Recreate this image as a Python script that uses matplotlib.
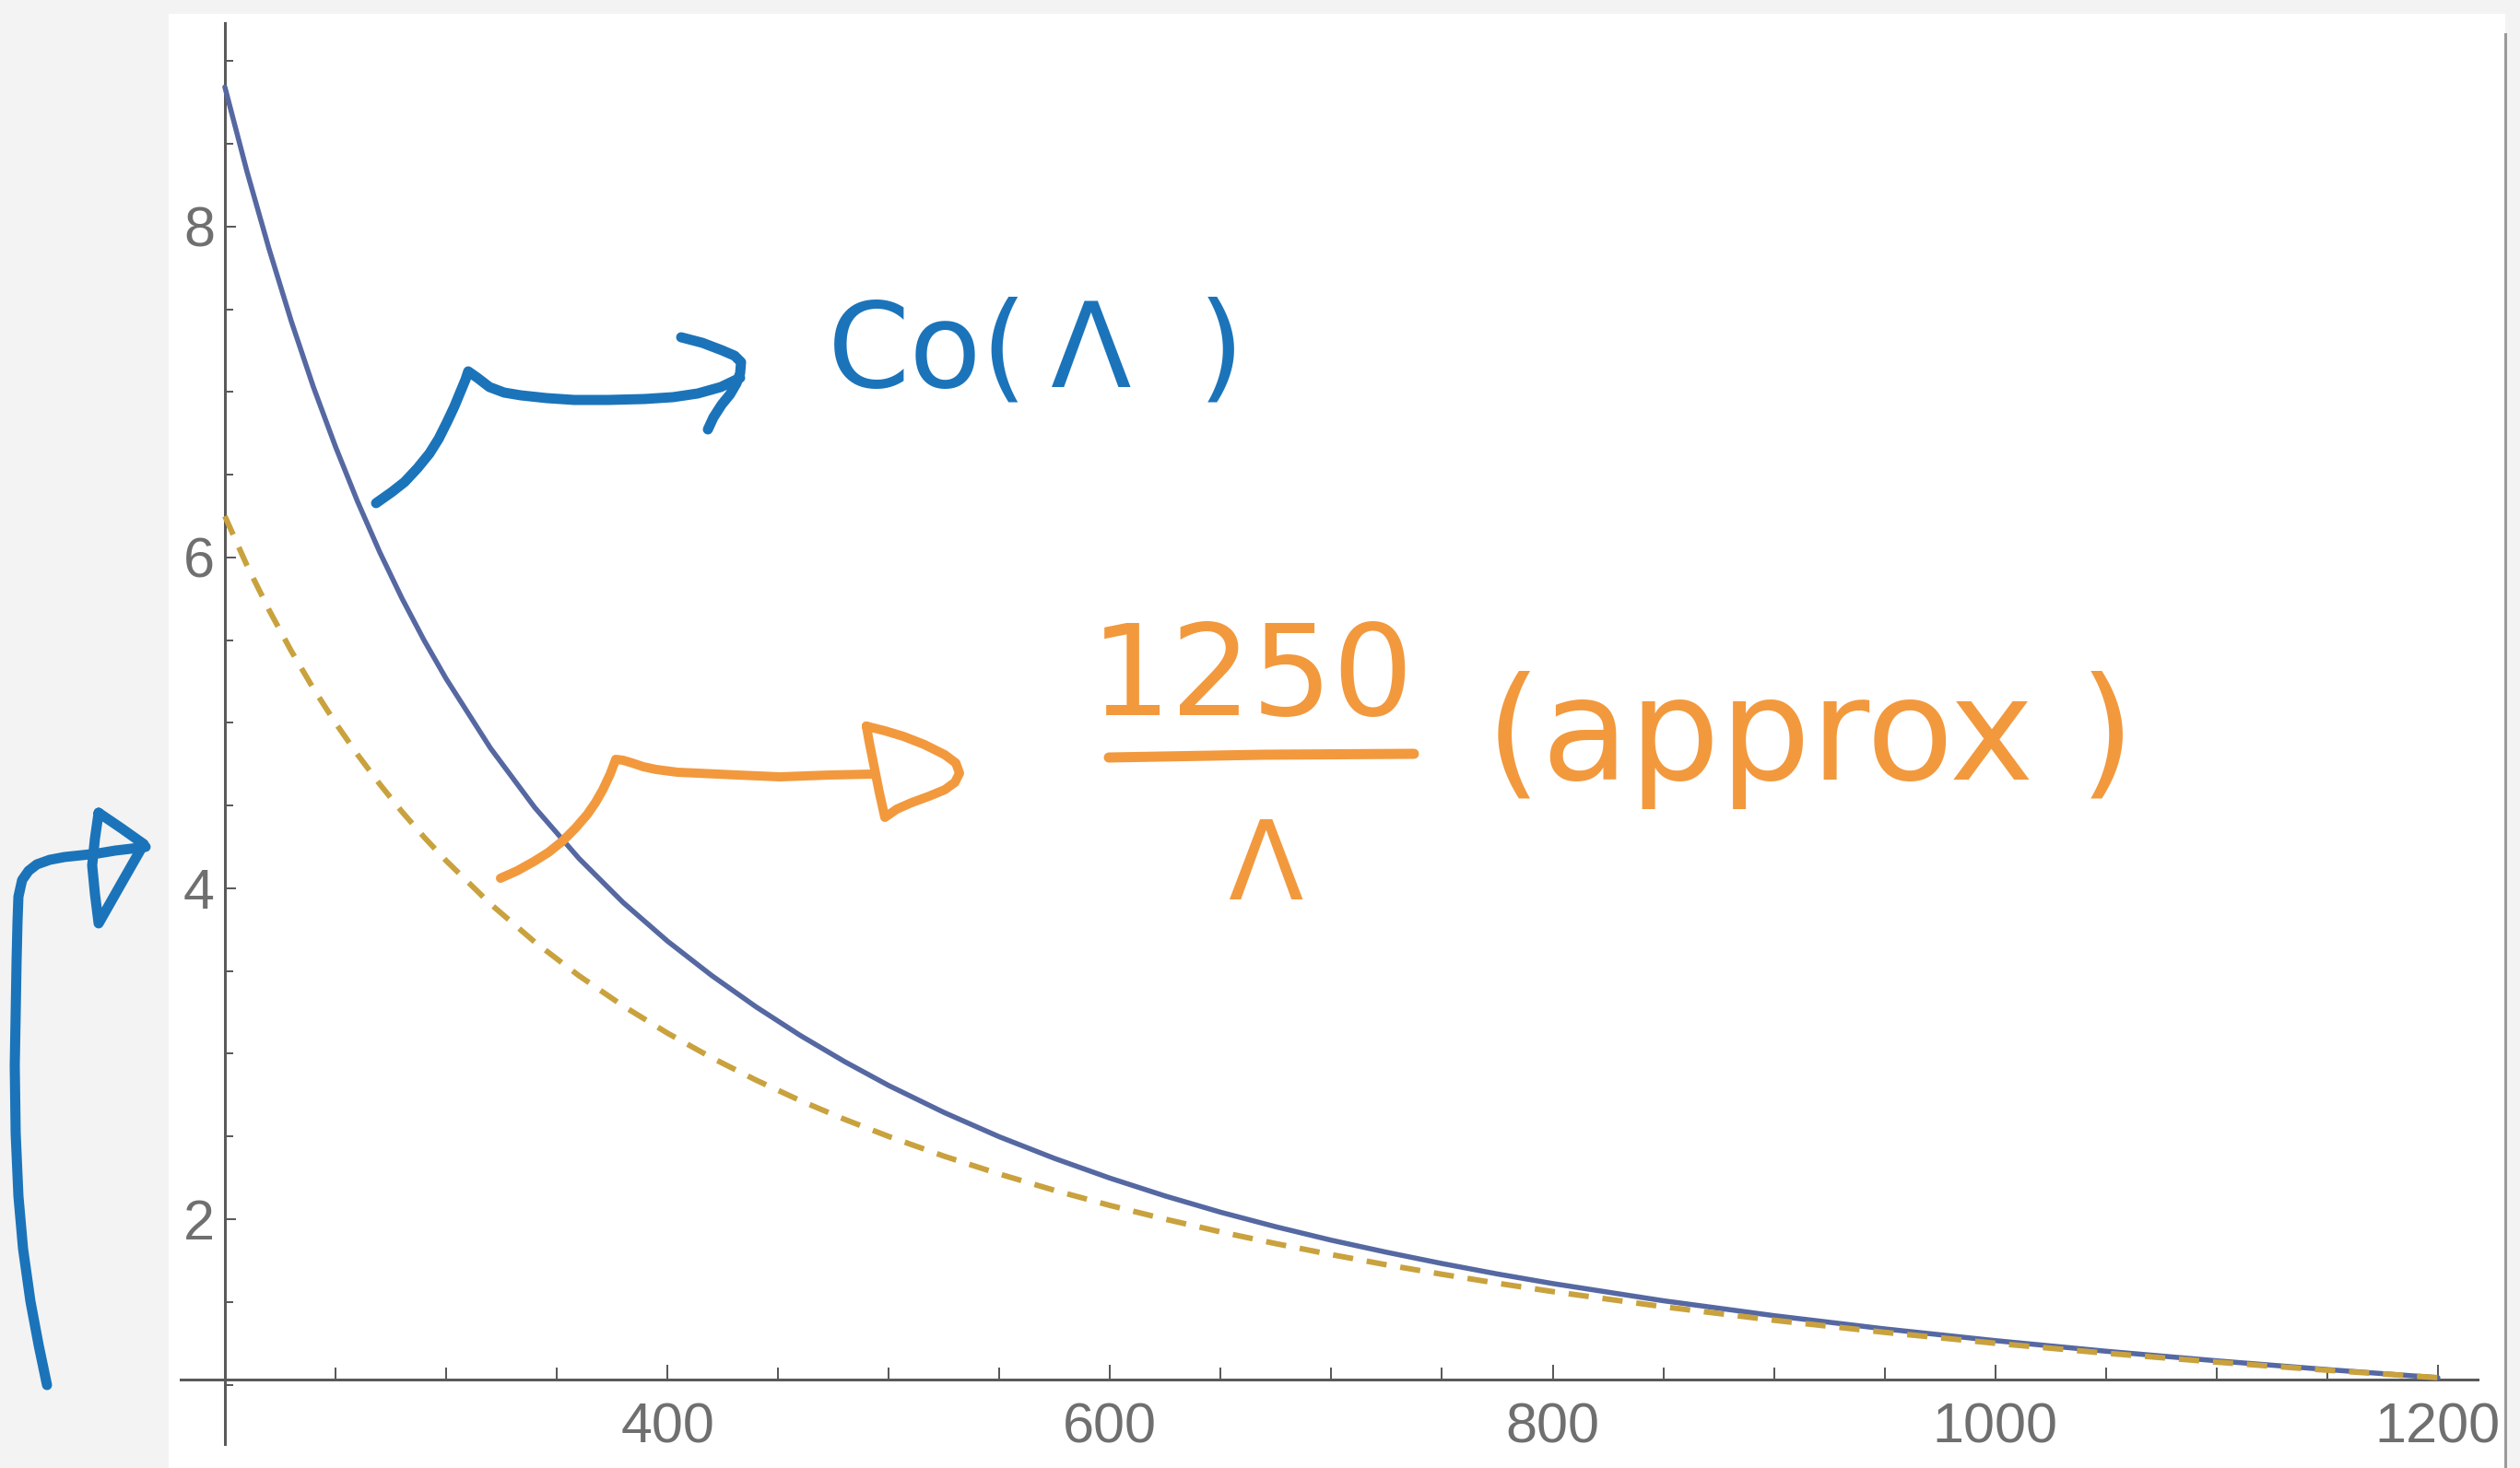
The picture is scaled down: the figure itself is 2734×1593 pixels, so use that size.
import numpy as np
import matplotlib
matplotlib.use("Agg")
from matplotlib import pyplot as plt
from matplotlib.patches import Rectangle

# values
lam = [200, 210, 220, 230, 240, 250, 260, 270, 280, 290, 300, 320, 340, 360,
       380, 400, 420, 440, 460, 480, 500, 525, 550, 575, 600, 625, 650, 675,
       700, 725, 750, 775, 800, 850, 900, 950, 1000, 1050, 1100, 1150, 1200]
co_lam = [8.844, 8.333, 7.864, 7.429, 7.031, 6.670, 6.337, 6.032, 5.754, 5.500,
          5.267, 4.848, 4.489, 4.181, 3.914, 3.681, 3.473, 3.284, 3.111, 2.953,
          2.808, 2.645, 2.498, 2.367, 2.248, 2.140, 2.042, 1.954, 1.873, 1.800,
          1.732, 1.669, 1.611, 1.507, 1.417, 1.337, 1.266, 1.202, 1.144, 1.091,
          1.042]
approx = [6.25, 5.952, 5.682, 5.435, 5.208, 5.0, 4.808, 4.630, 4.464, 4.310,
          4.167, 3.906, 3.676, 3.472, 3.289, 3.125, 2.976, 2.841, 2.717, 2.604,
          2.5, 2.381, 2.273, 2.174, 2.083, 2.0, 1.923, 1.852, 1.786, 1.724,
          1.667, 1.613, 1.5625, 1.471, 1.389, 1.316, 1.25, 1.190, 1.136, 1.087,
          1.042]

x_major = [400, 600, 800, 1000, 1200]
x_minor = [250, 300, 350, 450, 500, 550, 650, 700, 750, 850, 900, 950,
           1050, 1100, 1150]
y_major = [2, 4, 6, 8]
y_minor = [1.0, 1.5, 2.5, 3.0, 3.5, 4.5, 5.0, 5.5, 6.5, 7.0, 7.5, 8.5, 9.0]

W, H = 2734, 1593
DPI = 100
PT = DPI / 72.0

fig = plt.figure(figsize=(W / DPI, H / DPI), dpi=DPI)
fig.patch.set_facecolor("#f3f3f3")
fig.add_artist(Rectangle((183 / W, 0), (2718 - 183) / W, 1 - 15 / H,
                         transform=fig.transFigure, facecolor="white",
                         edgecolor="none", zorder=-5))

ax = fig.add_axes([0, 0, 1, 1])
ax.patch.set_visible(False)
ax.set_xlim(98.4, 1237.1)
ax.set_ylim(0.496, 9.370)

ax.plot(lam, co_lam, color="#5568a2", lw=5.5 / PT, solid_capstyle="round",
        solid_joinstyle="round", zorder=3)
ax.plot(lam, approx, color="#c9a23e", lw=6 / PT, zorder=4,
        linestyle=(0, (22 / 6, 15 / 6)))

axis_col = "#5a5a5a"
for s in ["top", "right"]:
    ax.spines[s].set_visible(False)
ax.spines["left"].set_position(("data", 200))
ax.spines["bottom"].set_position(("data", 1.03))
ax.spines["left"].set_bounds(0.64, 9.23)
ax.spines["bottom"].set_bounds(180, 1218)
for s in ["left", "bottom"]:
    ax.spines[s].set_color(axis_col)
    ax.spines[s].set_linewidth(3 / PT)

ax.set_xticks(x_major)
ax.set_xticks(x_minor, minor=True)
ax.set_yticks(y_major)
ax.set_yticks(y_minor, minor=True)
ax.set_xticklabels([str(v) for v in x_major])
ax.set_yticklabels([str(v) for v in y_major])

ax.tick_params(axis="x", which="major", direction="in", length=16 / PT,
               width=2 / PT, color=axis_col, pad=24 / PT, labelcolor="#6f6f6f",
               labelsize=44)
ax.tick_params(axis="x", which="minor", direction="in", length=13 / PT,
               width=2 / PT, color=axis_col)
ax.tick_params(axis="y", which="major", direction="in", length=12 / PT,
               width=2 / PT, color=axis_col, pad=11 / PT, labelcolor="#6f6f6f",
               labelsize=44)
ax.tick_params(axis="y", which="minor", direction="in", length=9 / PT,
               width=2 / PT, color=axis_col)
for t in ax.get_xticklabels():
    t.set_family(["Liberation Sans Narrow", "Liberation Sans", "DejaVu Sans"])
for t in ax.get_yticklabels():
    t.set_family(["Liberation Sans", "DejaVu Sans"])

# screenshot edge on the right
fig.add_artist(plt.Line2D([2718 / W, 2718 / W], [0, 1 - 37 / H],
                          transform=fig.transFigure, color="#9a9a9a", lw=3 / PT))

# handwritten notes, in image pixels
ov = fig.add_axes([0, 0, 1, 1])
ov.set_xlim(0, W)
ov.set_ylim(H, 0)
ov.axis("off")

blue_pen = "#1b74ba"
orange_pen = "#f2993e"

co_arrow = [(408, 546), (425, 534), (439, 523), (453, 508), (466, 492), (476, 476),
            (485, 458), (493, 441), (500, 424), (505, 412), (508, 403), (518, 410),
            (531, 420), (547, 426), (565, 429), (593, 432), (623, 434), (660, 434),
            (699, 433), (730, 431), (757, 427), (782, 420), (803, 410)]
co_head = [(739, 366), (762, 372), (783, 380), (797, 386), (804, 393), (803, 405),
           (799, 416), (792, 428), (783, 439), (774, 453), (768, 466)]
ap_arrow = [(543, 953), (561, 945), (579, 935), (595, 925), (610, 913), (624, 899),
            (637, 884), (646, 871), (654, 857), (662, 840), (668, 824), (676, 825),
            (686, 828), (698, 832), (712, 835), (735, 838), (757, 839), (800, 841),
            (846, 843), (900, 841), (947, 840)]
ap_head = [(940, 788), (960, 793), (980, 799), (1003, 808), (1025, 819), (1037, 828),
           (1041, 839), (1036, 849), (1025, 857), (1008, 864), (989, 871),
           (973, 878), (960, 887), (954, 860), (948, 830), (943, 805), (940, 788)]
left_arrow = [(51, 1503), (42, 1460), (33, 1412), (25, 1355), (20, 1298),
              (17, 1230), (16, 1156), (17, 1100), (18, 1042), (19, 1000),
              (20, 973), (24, 955), (31, 945), (40, 938), (54, 933), (70, 930),
              (89, 928), (107, 926), (125, 923), (142, 921), (158, 919)]
left_head = [(107, 882), (132, 899), (156, 916), (132, 958), (107, 1002),
             (103, 970), (100, 939), (103, 910), (107, 882)]
frac_bar = [(1203, 822), (1370, 819), (1534, 818)]

for pts, col, lw in [(co_arrow, blue_pen, 11), (co_head, blue_pen, 11),
                     (left_arrow, blue_pen, 11), (left_head, blue_pen, 11),
                     (ap_arrow, orange_pen, 10), (ap_head, orange_pen, 10),
                     (frac_bar, orange_pen, 11)]:
    xs, ys = zip(*pts)
    ov.plot(xs, ys, color=col, lw=lw / PT, solid_capstyle="round",
            solid_joinstyle="round")

# handwritten label pieces, spaced like the pen strokes
for s, x0 in [("Co(", 898), ("Λ", 1140), (")", 1300)]:
    ov.text(x0, 420, s, color=blue_pen, fontsize=128 / PT, ha="left",
            va="baseline", family="DejaVu Sans")
ov.text(1358, 776, "1250", color=orange_pen, fontsize=138 / PT, ha="center",
        va="baseline", family="DejaVu Sans")
ov.text(1373, 976, "Λ", color=orange_pen, fontsize=119 / PT, ha="center",
        va="baseline", family="DejaVu Sans")
ov.text(1612, 846, "(approx )", color=orange_pen, fontsize=155 / PT, ha="left",
        va="baseline", family="DejaVu Sans")

fig.savefig("out.png", dpi=DPI, facecolor=fig.get_facecolor())
